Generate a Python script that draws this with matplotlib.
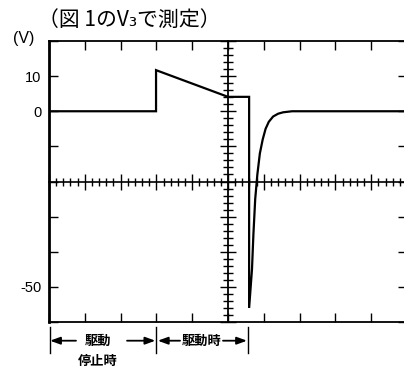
import matplotlib
matplotlib.use('Agg')
import matplotlib.pyplot as plt
import numpy as np
from matplotlib.ticker import MultipleLocator

plt.rcParams['font.family'] = ['Liberation Sans', 'Noto Sans CJK JP', 'DejaVu Sans']
JP = ['Noto Sans CJK JP', 'DejaVu Sans']

# ---- data (x in screen divisions, voltage in V) ----
t_div = [0.0, 2.99, 2.99, 5.0, 5.59, 5.59, 5.67, 5.71, 5.76, 5.82, 5.89,
         5.97, 6.05, 6.14, 6.26, 6.40, 6.54, 6.79, 10.0]
volts = [0.0, 0.0, 11.7, 4.1, 4.1, -56.0, -45.0, -35.0, -25.0, -18.0, -12.0,
         -8.0, -5.0, -3.0, -1.5, -0.7, -0.3, 0.0, 0.0]
ytick_vals = [10, 0, -50]
ytick_text = ['10', '0', '-50']
title_text = '（図 1のV₃で測定）'
unit_text = '(V)'
seg1_label = '駆動'
seg1_label2 = '停止時'
seg2_label = '駆動時'
seg_bounds = [0.03, 3.0, 5.56]

fig = plt.figure(figsize=(4.04, 3.72), dpi=100)
pos = [49/404, 50/372, 358/404, 281/372]
ax = fig.add_axes(pos)
ax.set_xlim(0, 10)
ax.set_ylim(-60, 20)

ax.plot(t_div, volts, color='black', lw=1.6, solid_joinstyle='miter', zorder=5)

for s in ['top', 'bottom', 'right']:
    ax.spines[s].set_linewidth(1.3)
ax.spines['left'].set_linewidth(2.0)

ax.set_xticks(np.arange(0, 11, 1))
ax.set_yticks(np.arange(-60, 21, 10))
labels = [ytick_text[ytick_vals.index(v)] if v in ytick_vals else '' for v in np.arange(-60, 21, 10)]
ax.set_yticklabels(labels)
ax.tick_params(axis='both', direction='in', length=6.5, width=1.0,
               top=True, right=True, labelbottom=False, labelsize=10.5, pad=5.5)

# center graticule axes
ax2 = fig.add_axes(pos, facecolor='none')
ax2.set_xlim(0, 10)
ax2.set_ylim(-60, 20)
ax2.spines['left'].set_position(('data', 5))
ax2.spines['bottom'].set_position(('data', -20))
ax2.spines['top'].set_visible(False)
ax2.spines['right'].set_visible(False)
ax2.spines['left'].set_linewidth(1.3)
ax2.spines['bottom'].set_linewidth(1.2)
ax2.xaxis.set_major_locator(MultipleLocator(1))
ax2.xaxis.set_minor_locator(MultipleLocator(0.2))
ax2.yaxis.set_major_locator(MultipleLocator(10))
ax2.yaxis.set_minor_locator(MultipleLocator(2))
ax2.tick_params(which='both', direction='inout', labelleft=False, labelbottom=False)
ax2.tick_params(axis='x', which='major', length=11.5, width=1.0)
ax2.tick_params(axis='x', which='minor', length=5.5, width=1.0)
ax2.tick_params(axis='y', which='major', length=12, width=1.0)
ax2.tick_params(axis='y', which='minor', length=7.5, width=1.0)

# texts
fig.text(13/404, 1-38/372, unit_text, fontsize=11.5, ha='left', va='center')
fig.text(38/404, 1-20/372, title_text, fontsize=15, ha='left', va='center', family=JP)

# bottom annotations
trans = ax.get_xaxis_transform()
def fy(p):
    return (322 - p) / 281
ya = fy(340.7)
for xb in seg_bounds:
    ax.plot([xb, xb], [fy(327), fy(353)], transform=trans, color='black',
            lw=1.0, clip_on=False)
ap = dict(arrowstyle='-|>,head_length=0.6,head_width=0.22', lw=1.3, color='black',
          shrinkA=0, shrinkB=0, mutation_scale=10)
for head, tail in [(0.03, 0.754), (2.97, 2.18), (3.04, 3.66), (5.53, 4.86)]:
    ax.annotate('', xy=(head, ya), xytext=(tail, ya), xycoords=trans, textcoords=trans,
                arrowprops=ap, annotation_clip=False)
ax.text(1.37, ya, seg1_label, transform=trans, ha='center', va='center', fontsize=9.5,
        family=JP, fontweight='bold')
ax.text(1.36, fy(361), seg1_label2, transform=trans, ha='center', va='center', fontsize=9.5,
        family=JP, fontweight='bold')
ax.text(4.26, ya, seg2_label, transform=trans, ha='center', va='center', fontsize=9.5,
        family=JP, fontweight='bold')

fig.savefig('out.png', dpi=100)
